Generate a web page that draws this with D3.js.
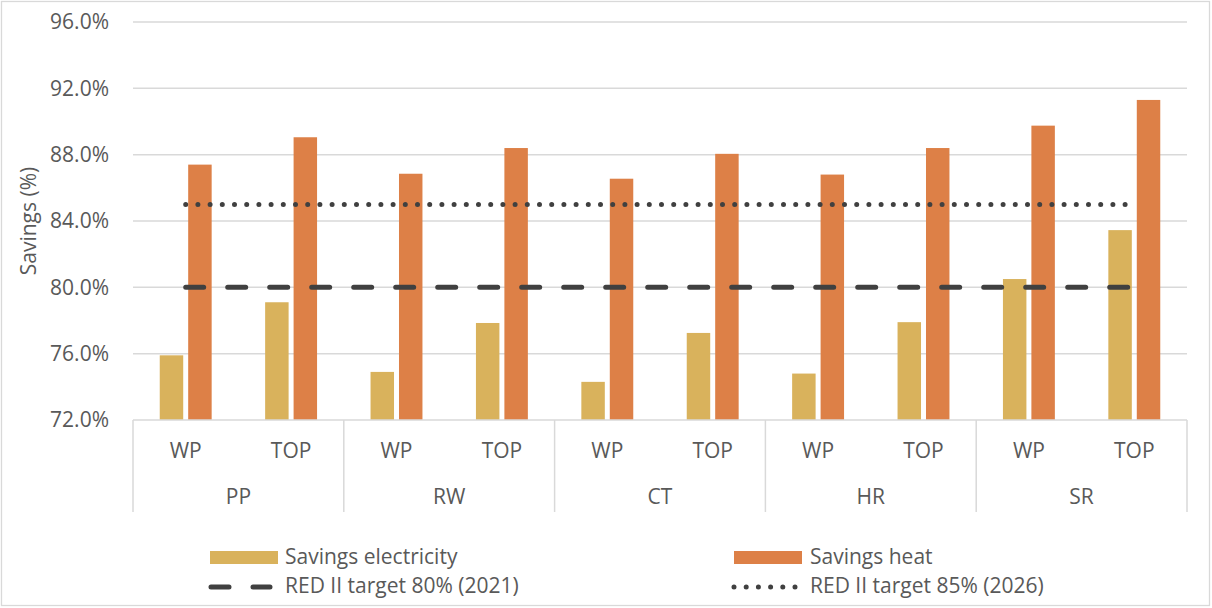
<!DOCTYPE html>
<html>
<head>
<script src="https://d3js.org/d3.v7.js"></script>
<style>
  body { margin: 0; background: #fff; }
  text { font-family: "Open Sans", "DejaVu Sans", sans-serif; fill: #595959; font-size: 21px; }
</style>
</head>
<body>
<script>
const groups = ['PP', 'RW', 'CT', 'HR', 'SR']
const subs = ['WP', 'TOP']
const elec = [75.9, 79.1, 74.9, 77.85, 74.3, 77.25, 74.8, 77.9, 80.5, 83.45]
const heat = [87.4, 89.05, 86.85, 88.4, 86.55, 88.05, 86.8, 88.4, 89.75, 91.3]
const target2021 = 80
const target2026 = 85
const yTicks = [72, 76, 80, 84, 88, 92, 96]

const w = 1212
const h = 608
const plotL = 133, plotR = 1187, plotT = 22, plotB = 420

const cats = []
groups.forEach(g => subs.forEach(s => cats.push(g + '|' + s)))

const svg = d3.select('body').append('svg').attr('width', w).attr('height', h)

svg.append('rect').attr('x', 1.5).attr('y', 1.5).attr('width', w - 4).attr('height', h - 4)
  .attr('fill', '#fff').attr('stroke', '#d9d9d9').attr('stroke-width', 1.3)

const x = d3.scaleBand().domain(cats).range([plotL, plotR])
const xg = d3.scaleBand().domain(groups).range([plotL, plotR])
const x1 = d3.scaleBand().domain(['elec', 'heat']).range([0, x.bandwidth()])
  .paddingInner(0.175).paddingOuter(0.94)
const y = d3.scaleLinear().domain([72, 96]).range([plotB, plotT])

// grid
svg.append('g').selectAll('line').data(yTicks.slice(1)).enter().append('line')
  .attr('x1', plotL).attr('x2', plotR)
  .attr('y1', d => y(d)).attr('y2', d => y(d))
  .attr('stroke', '#d9d9d9').attr('stroke-width', 1.5)

// y axis labels
svg.append('g').selectAll('text').data(yTicks).enter().append('text')
  .attr('x', 109).attr('y', d => y(d)).attr('dy', '0.35em')
  .attr('text-anchor', 'end')
  .text(d => d.toFixed(1) + '%')

svg.append('text').attr('transform', 'translate(36,' + y(84) + ') rotate(-90)')
  .attr('text-anchor', 'middle').text('Savings (%)')

// bars
const bars = svg.append('g')
bars.selectAll('.elec').data(elec).enter().append('rect')
  .attr('x', (d, i) => x(cats[i]) + x1('elec'))
  .attr('y', d => y(d)).attr('width', x1.bandwidth())
  .attr('height', d => y(72) - y(d)).attr('fill', '#d9b25c')
bars.selectAll('.heat').data(heat).enter().append('rect')
  .attr('x', (d, i) => x(cats[i]) + x1('heat'))
  .attr('y', d => y(d)).attr('width', x1.bandwidth())
  .attr('height', d => y(72) - y(d)).attr('fill', '#dd8047')

// target lines
const line = d3.line().x(c => x(c) + x.bandwidth() / 2)
svg.append('path').datum(cats).attr('d', line.y(() => y(target2026)))
  .attr('fill', 'none').attr('stroke', '#404040').attr('stroke-width', 5)
  .attr('stroke-linecap', 'round').attr('stroke-dasharray', '0 12.2')
svg.append('path').datum(cats).attr('d', line.y(() => y(target2021)))
  .attr('fill', 'none').attr('stroke', '#404040').attr('stroke-width', 5)
  .attr('stroke-linecap', 'round').attr('stroke-dasharray', '18 24')

// x axis
const ax = svg.append('g')
ax.append('line').attr('x1', plotL).attr('x2', plotR).attr('y1', plotB).attr('y2', plotB)
  .attr('stroke', '#d9d9d9').attr('stroke-width', 1.5)
ax.selectAll('.sep').data(groups.concat(['end'])).enter().append('line')
  .attr('x1', (d, i) => i < groups.length ? xg(d) : plotR)
  .attr('x2', (d, i) => i < groups.length ? xg(d) : plotR)
  .attr('y1', plotB).attr('y2', 512)
  .attr('stroke', '#d9d9d9').attr('stroke-width', 1.5)
ax.selectAll('.sub').data(cats).enter().append('text')
  .attr('x', d => x(d) + x.bandwidth() / 2).attr('y', 451).attr('dy', '0.35em')
  .attr('text-anchor', 'middle')
  .text(d => d.split('|')[1])
ax.selectAll('.grp').data(groups).enter().append('text')
  .attr('x', d => xg(d) + xg.bandwidth() / 2).attr('y', 497).attr('dy', '0.35em')
  .attr('text-anchor', 'middle')
  .text(d => d)

// legend
const lg = svg.append('g')
lg.append('rect').attr('x', 210).attr('y', 551).attr('width', 68).attr('height', 13).attr('fill', '#d9b25c')
lg.append('text').attr('x', 285).attr('y', 557).attr('dy', '0.35em').text('Savings electricity')
lg.append('rect').attr('x', 734).attr('y', 551).attr('width', 68).attr('height', 13).attr('fill', '#dd8047')
lg.append('text').attr('x', 810).attr('y', 557).attr('dy', '0.35em').text('Savings heat')
lg.append('line').attr('x1', 211).attr('x2', 270).attr('y1', 587).attr('y2', 587)
  .attr('stroke', '#404040').attr('stroke-width', 5).attr('stroke-linecap', 'round').attr('stroke-dasharray', '18 24')
lg.append('text').attr('x', 285).attr('y', 586).attr('dy', '0.35em').text('RED II target 80% (2021)')
lg.append('line').attr('x1', 734).attr('x2', 798).attr('y1', 587).attr('y2', 587)
  .attr('stroke', '#404040').attr('stroke-width', 5).attr('stroke-linecap', 'round').attr('stroke-dasharray', '0 12.2')
lg.append('text').attr('x', 810).attr('y', 586).attr('dy', '0.35em').text('RED II target 85% (2026)')
</script>
</body>
</html>
